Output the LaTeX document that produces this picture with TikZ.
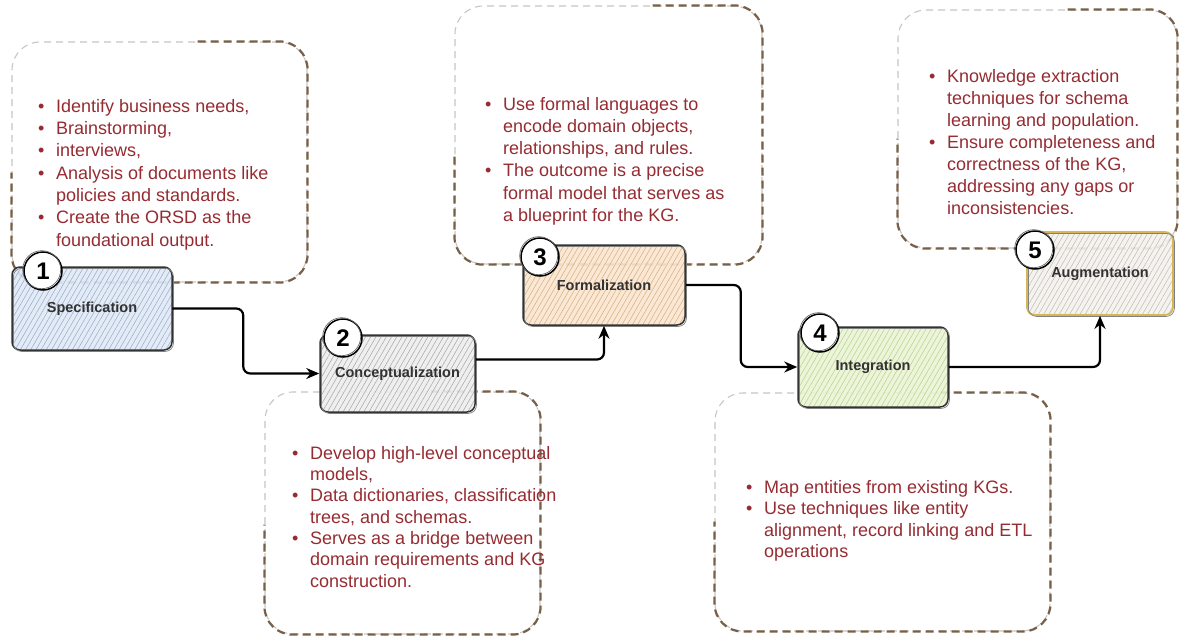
\documentclass[tikz,border=0pt]{standalone}
\usepackage{fontspec}
\setmainfont{Liberation Sans}
\usetikzlibrary{patterns.meta,arrows.meta,calc}
\definecolor{txtred}{RGB}{150,44,50}
\definecolor{tbgray}{RGB}{200,198,195}
\definecolor{tbbrown}{RGB}{120,96,72}
\definecolor{lblgray}{RGB}{50,50,50}
\definecolor{f1}{RGB}{224,233,246}\definecolor{p1}{RGB}{150,170,200}
\definecolor{f2}{RGB}{238,238,238}\definecolor{p2}{RGB}{165,165,165}
\definecolor{f3}{RGB}{250,230,208}\definecolor{p3}{RGB}{215,172,128}
\definecolor{f4}{RGB}{234,243,214}\definecolor{p4}{RGB}{182,210,135}
\definecolor{f5}{RGB}{244,242,238}\definecolor{p5}{RGB}{192,186,176}
\definecolor{ylw}{RGB}{214,182,86}
\newcommand\B{\makebox[18pt][l]{\textbullet}}
\newcommand\C{\hspace*{18pt}}
\newcommand\tbshade[1]{\draw[tbb] ([xshift=-110pt]#1.north east) -- (#1.north east) -- (#1.south east) -- (#1.south west) -- ([yshift=110pt]#1.south west);}
\begin{document}
\begin{tikzpicture}[x=1pt,y=-1pt,
  tbox/.style={draw=tbgray, line width=1.1pt, dash pattern=on 7pt off 5pt, rounded corners=28pt, inner sep=0pt},
  tbb/.style={draw=tbbrown, line width=2.2pt, dash pattern=on 8pt off 5pt, rounded corners=28pt},
  bultxt/.style={anchor=north west, inner sep=0pt, align=left, text=txtred},
  stage/.style={draw=black!80, line width=1.5pt, rounded corners=8pt, inner sep=0pt,
     fill opacity=0.9, text opacity=1, font=\fontsize{14.5}{17}\selectfont\bfseries, text=lblgray,
     postaction={draw=black!50, line width=0.7pt, transform canvas={shift={(1.4pt,-1.4pt)}}}},
  num/.style={circle, draw=black, line width=1.5pt, fill=white, minimum size=38pt, inner sep=0pt,
     font=\fontsize{24}{26}\selectfont\bfseries,
     postaction={draw=black!60, line width=0.7pt, transform canvas={shift={(-1.3pt,1.3pt)}}}},
  conn/.style={draw=black, line width=2.2pt, rounded corners=7pt, -{Stealth[length=13pt,width=11pt]}}
]
\useasboundingbox (0,0) rectangle (1186,637);
\fill[white] (0,0) rectangle (1186,637);

% dashed text boxes
\node[tbox, minimum width=295pt, minimum height=240pt] (t1) at (159.5,162) {};
\node[tbox, minimum width=275pt, minimum height=242pt] (t2) at (402.5,513) {};
\node[tbox, minimum width=307pt, minimum height=258pt] (t3) at (608.5,135) {};
\node[tbox, minimum width=335pt, minimum height=238pt] (t4) at (882.5,512) {};
\node[tbox, minimum width=279pt, minimum height=238pt] (t5) at (1037.5,129) {};
\tbshade{t1}\tbshade{t2}\tbshade{t3}\tbshade{t4}\tbshade{t5}

% texts
\node[bultxt, font=\fontsize{18}{22.3}\selectfont] (x1) at (38,99)
 {\B Identify business needs,\\ \B Brainstorming,\\ \B interviews,\\ \B Analysis of documents like\\ \C policies and standards.\\ \B Create the ORSD as the\\ \C foundational output.};
\node[bultxt, font=\fontsize{18}{21.3}\selectfont] (x2) at (292,446)
 {\B Develop high-level conceptual\\ \C models,\\ \B Data dictionaries, classification\\ \C trees, and schemas.\\ \B Serves as a bridge between\\ \C domain requirements and KG\\ \C construction.};
\node[bultxt, font=\fontsize{18}{22.2}\selectfont] (x3) at (485,97)
 {\B Use formal languages to\\ \C encode domain objects,\\ \C relationships, and rules.\\ \B The outcome is a precise\\ \C formal model that serves as\\ \C a blueprint for the KG.};
\node[bultxt, font=\fontsize{18}{21.5}\selectfont] (x4) at (746,480)
 {\B Map entities from existing KGs.\\ \B Use techniques like entity\\ \C alignment, record linking and ETL\\ \C operations};
\node[bultxt, font=\fontsize{18}{22}\selectfont] (x5) at (929,69)
 {\B Knowledge extraction\\ \C techniques for schema\\ \C learning and population.\\ \B Ensure completeness and\\ \C correctness of the KG,\\ \C addressing any gaps or\\ \C inconsistencies.};

% stage boxes
\node[stage, minimum width=160pt, minimum height=83pt, preaction={fill=f1},
  pattern={Lines[angle=60,distance=4.5pt,line width=0.5pt]}, pattern color=p1] (b1) at (92,308.5) {Specification};
\node[stage, minimum width=155pt, minimum height=77pt, preaction={fill=f2},
  pattern={Lines[angle=60,distance=4.5pt,line width=0.5pt]}, pattern color=p2] (b2) at (397.5,373.5) {Conceptualization};
\node[stage, minimum width=162pt, minimum height=80pt, preaction={fill=f3},
  pattern={Lines[angle=60,distance=4.5pt,line width=0.5pt]}, pattern color=p3] (b3) at (604,285) {Formalization};
\node[stage, minimum width=150pt, minimum height=80pt, preaction={fill=f4},
  pattern={Lines[angle=60,distance=4.5pt,line width=0.5pt]}, pattern color=p4] (b4) at (873,367) {Integration};
\node[stage, draw=ylw, line width=1.8pt, minimum width=146pt, minimum height=83pt, preaction={fill=f5},
  pattern={Lines[angle=60,distance=4.5pt,line width=0.5pt]}, pattern color=p5] (b5) at (1100,273.5) {Augmentation};

% connectors
\draw[conn] (b1.east) -- ++(71,0) |- (b2.west);
\draw[conn] ($(b2.east)+(0,14pt)$) -| (b3.south);
\draw[conn] (b3.east) -- ++(55,0) |- (b4.west);
\draw[conn] (b4.east) -| (b5.south);

% numbers
\node[num] (c1) at (43,271) {1};
\node[num] (c2) at (343,338) {2};
\node[num] (c3) at (540,257) {3};
\node[num] (c4) at (820,333) {4};
\node[num] (c5) at (1035,250) {5};
\end{tikzpicture}
\end{document}
